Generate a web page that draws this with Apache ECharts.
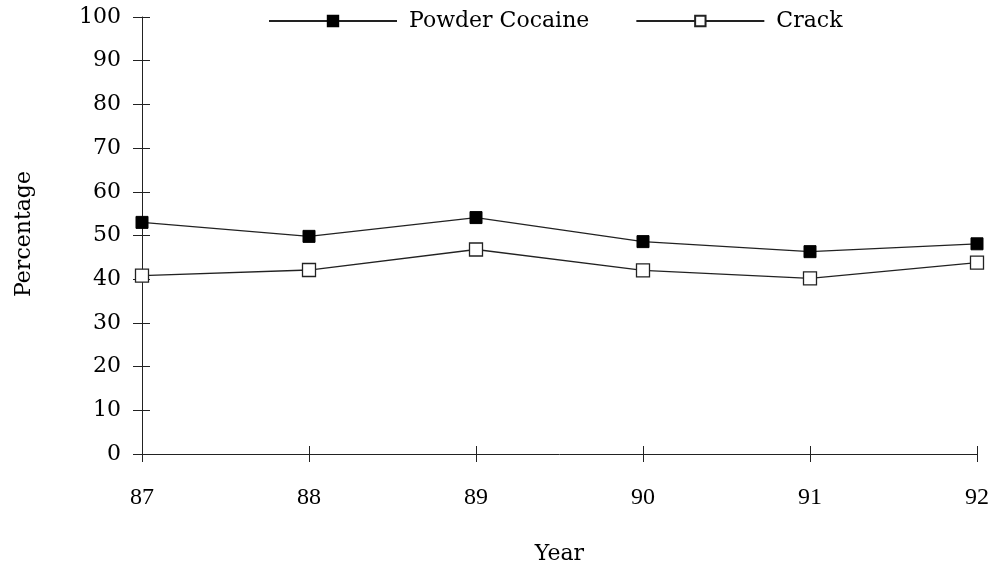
<!DOCTYPE html>
<html><head><meta charset="utf-8">
<script src="https://cdn.jsdelivr.net/npm/echarts@6/dist/echarts.min.js"></script>
<style>html,body{margin:0;padding:0;background:#fff}#c{width:999px;height:567px}</style>
</head><body><div id="c"></div>
<script>
var years = ['87','88','89','90','91','92'];
var powderCocaine = [53.0, 49.8, 54.1, 48.6, 46.3, 48.1];
var crack = [40.8, 42.1, 46.8, 42.0, 40.2, 43.8];
var yMin = 0, yMax = 100, yStep = 10;
var seriesNames = ['Powder Cocaine', 'Crack'];

var FONT = 'DejaVu Serif';
var FONT2 = 'Liberation Serif';
var chart = echarts.init(document.getElementById('c'), null, {renderer:'canvas'});
var gridRect = {left:142, right:22, top:17, bottom:113, outerBoundsMode:'none', containLabel:false};
var axisLineStyle = {color:'#222', width:1};
chart.setOption({
  animation:false,
  backgroundColor:'#fff',
  textStyle:{fontFamily:FONT, color:'#000'},
  legend:{
    left:263, top:5, itemWidth:128, itemHeight:13, itemGap:46,
    textStyle:{fontFamily:FONT, fontSize:22, color:'#000', padding:[0,0,0,7]},
    data:seriesNames
  },
  grid:[Object.assign({}, gridRect), Object.assign({}, gridRect)],
  xAxis:[{
    type:'category', data:years, boundaryGap:false, gridIndex:0,
    axisLine:{lineStyle:axisLineStyle},
    axisTick:{inside:false, length:8, lineStyle:axisLineStyle},
    axisLabel:{fontFamily:FONT2, fontSize:24, color:'#000', margin:32},
    name:'Year', nameLocation:'middle', nameGap:89,
    nameTextStyle:{fontFamily:FONT, fontSize:22, color:'#000'}
  },{
    type:'category', data:years, boundaryGap:false, gridIndex:1,
    axisLine:{show:false}, axisLabel:{show:false},
    axisTick:{inside:true, length:8, lineStyle:axisLineStyle}
  }],
  yAxis:[{
    type:'value', min:yMin, max:yMax, interval:yStep, gridIndex:0,
    axisLine:{show:true, lineStyle:axisLineStyle},
    axisTick:{show:true, inside:false, length:9, lineStyle:axisLineStyle},
    splitLine:{show:false},
    axisLabel:{fontFamily:FONT, fontSize:22, color:'#000', margin:21}
  },{
    type:'value', min:yMin, max:yMax, interval:yStep, gridIndex:1,
    axisLine:{show:false}, axisLabel:{show:false}, splitLine:{show:false},
    axisTick:{show:true, inside:true, length:8, lineStyle:axisLineStyle}
  }],
  graphic:[{
    type:'text', x:24, y:234, rotation:Math.PI/2,
    style:{text:'Percentage', font:'22px "DejaVu Serif"', fill:'#000', textAlign:'center', textVerticalAlign:'middle'}
  }],
  series:[{
    name:seriesNames[0], type:'line', data:powderCocaine,
    symbol:'rect', symbolSize:12, showAllSymbol:true,
    lineStyle:{color:'#222', width:1.3},
    itemStyle:{color:'#000', borderColor:'#000', borderWidth:1}
  },{
    name:seriesNames[1], type:'line', data:crack,
    symbol:'rect', symbolSize:13, showAllSymbol:true,
    lineStyle:{color:'#222', width:1.3},
    itemStyle:{color:'#fff', borderColor:'#222', borderWidth:1.3}
  }]
});
</script></body></html>
